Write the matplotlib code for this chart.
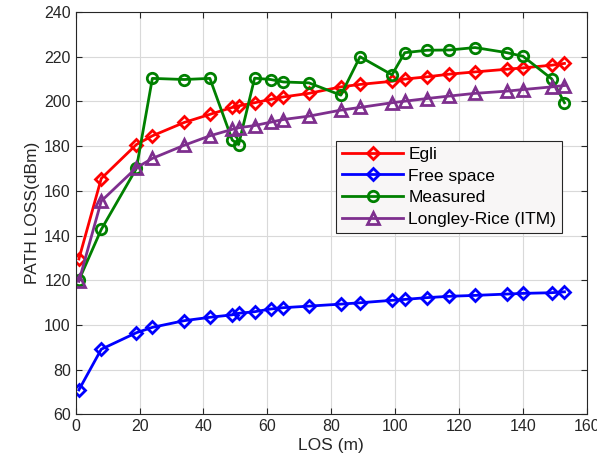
import matplotlib.pyplot as plt

plt.rcParams['font.family'] = ['Liberation Sans', 'DejaVu Sans']

los = [1, 8, 19, 24, 34, 42, 49, 51, 56, 61, 65, 73, 83, 89, 99, 103, 110, 117, 125, 135, 140, 149, 153]
egli = [129.5, 165.5, 180.7, 184.6, 190.6, 194.2, 197.3, 198, 199.4, 200.9, 202, 203.6,
        206.5, 207.6, 209, 210, 211, 212.2, 213.2, 214.4, 215, 216.2, 217]
free_space = [70.9, 89.1, 96.5, 98.9, 101.9, 103.4, 104.5, 105.2, 105.9, 107.1, 107.7, 108.4,
              109.3, 109.9, 111, 111.4, 112.2, 112.8, 113.2, 113.8, 114.1, 114.4, 114.8]
measured = [120, 142.7, 170, 210.3, 209.8, 210.3, 182.7, 180.7, 210.4, 209.8, 208.7, 208.3,
            202.8, 220, 211.9, 221.8, 222.9, 223, 224.1, 221.8, 220.2, 210.1, 199.4]
longley = [119.5, 155.4, 170.3, 174.5, 180.4, 184.6, 187.5, 188.2, 189.2, 190.7, 191.9, 193.4,
           196.1, 197.3, 199.4, 200.1, 201.3, 202.4, 203.6, 204.6, 205.3, 206.5, 207.1]

fig = plt.figure(figsize=(5.97, 4.71), dpi=100)
ax = fig.add_axes([0.1268, 0.1204, 0.8562, 0.8541])

style = dict(linewidth=2, markerfacecolor='none', markeredgewidth=2)
ax.plot(los, egli, color='#ff0000', marker='D', markersize=6.5, label='Egli', **style)
ax.plot(los, free_space, color='#0000ff', marker='D', markersize=6.5, label='Free space', **style)
ax.plot(los, measured, color='#008000', marker='o', markersize=7.5, label='Measured', **style)
ax.plot(los, longley, color='#7e2f8e', marker='^', markersize=8, label='Longley-Rice (ITM)', **style)

ax.set_xlim(0, 160)
ax.set_ylim(60, 240)
ax.set_xticks(range(0, 161, 20))
ax.set_yticks(range(60, 241, 20))
ax.tick_params(direction='in', top=True, right=True, labelsize=11.5, length=4, color='#262626',
               labelcolor='#262626')
ax.grid(True, color='#d9d9d9', linewidth=0.8)
ax.set_axisbelow(True)
for s in ax.spines.values():
    s.set_color('#262626')

ax.set_xlabel('LOS (m)', fontsize=12.5, labelpad=3, color='#262626')
ax.set_ylabel('PATH LOSS(dBm)', fontsize=12.5, labelpad=3, color='#262626')

leg = ax.legend(loc='upper right', bbox_to_anchor=(0.969, 0.702), fontsize=12.5,
                fancybox=False, framealpha=1, edgecolor='#262626',
                handlelength=3.5, borderpad=0.35, labelspacing=0.38, handletextpad=0.3)
leg.get_frame().set_facecolor('#f8f6f6')
leg.get_frame().set_linewidth(0.8)

fig.savefig('out.png', dpi=100)
